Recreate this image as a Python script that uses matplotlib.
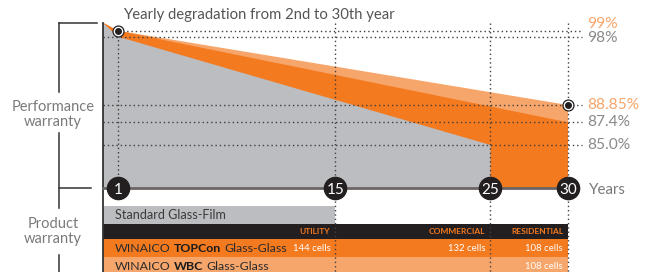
import numpy as np
import matplotlib
matplotlib.use("Agg")
import matplotlib.pyplot as plt

plt.rcParams['font.family'] = ['Lato', 'DejaVu Sans']

# ===== 数据 =====
STANDARD_YEARS = [0, 1, 25]
STANDARD_PERF = [100, 98, 85.0]
TOPCON_YEARS = [0, 1, 30]
TOPCON_PERF = [100, 99, 87.4]
WBC_YEARS = [0, 1, 30]
WBC_PERF = [100, 99, 88.85]

GUIDE_LEVELS = [99, 98, 88.85, 87.4, 85.0]
LEVEL_LABELS = ["99%", "98%", "88.85%", "87.4%", "85.0%"]
MILESTONES = [1, 15, 25, 30]

PRODUCTS = ["Standard Glass-Film", "TOPCon", "WBC"]
PRODUCT_YEARS = [15, 30, 30]
SEGMENTS = ["UTILITY", "COMMERCIAL", "RESIDENTIAL"]
SEGMENT_END = [15, 25, 30]
TOPCON_CELLS = ["144 cells", "132 cells", "108 cells"]
WBC_CELLS = ["", "", "108 cells"]

# ===== 颜色 =====
GREY = '#bcbdc0'
ORANGE = '#f47a20'
LIGHT = '#f7a66b'
DARK = '#231f20'
DOT = '#3f3f3f'
TXT = '#8a8a8a'

# infographic uses an uneven vertical scale
KNOTS_V = [80, 85, 87.4, 88.85, 98, 99, 100]
KNOTS_H = [0, 43, 65.7, 83, 151.3, 157.3, 165.5]


def fwd(v):
    return np.interp(v, KNOTS_V, KNOTS_H)


def inv(h):
    return np.interp(h, KNOTS_H, KNOTS_V)


W, H = 657, 272
fig = plt.figure(figsize=(W / 100, H / 100), dpi=100)

bg = fig.add_axes([0, 0, 1, 1], zorder=0)
bg.set_xlim(0, W)
bg.set_ylim(H, 0)
bg.axis('off')

x0, x1 = 102.5, 568
top, base = 22.5, 188
ax = fig.add_axes([x0 / W, 1 - base / H, (x1 - x0) / W, (base - top) / H], zorder=2)
ax.set_xlim(0, 30)
ax.set_yscale('function', functions=(fwd, inv))
ax.set_ylim(80, 100)
ax.axis('off')

ax2 = fig.add_axes([x0 / W, 0, (x1 - x0) / W, (H - base) / H], zorder=1)
ax2.set_xlim(0, 30)
ax2.set_ylim(H, base)
ax2.axis('off')

# =========================
# 性能质保曲线
# =========================
ax.fill(WBC_YEARS + [WBC_YEARS[-1], 0], WBC_PERF + [80, 80], color=LIGHT, lw=0, zorder=1)
ax.fill(TOPCON_YEARS + [TOPCON_YEARS[-1], 0], TOPCON_PERF + [80, 80], color=ORANGE, lw=0, zorder=1.1)
ax.fill(STANDARD_YEARS + [STANDARD_YEARS[-1], 0], STANDARD_PERF + [80, 80], color=GREY, lw=0, zorder=1.2)

dots = dict(color=DOT, lw=1.0, linestyle=(0, (1.0, 2.1)), clip_on=False, zorder=3)
for lvl, lab in zip(GUIDE_LEVELS, LEVEL_LABELS):
    start = 1 if lvl == 99 else 0
    ax.plot([start, 30.9], [lvl, lvl], **dots)
    col = LIGHT if lab in ("99%", "88.85%") else TXT
    dy = 4.5 if lvl == 99 else (-0.6 if lvl == 98 else 0)
    ax.annotate(lab, (31.22, lvl), xytext=(0, dy), textcoords='offset points',
                color=col, fontsize=11.2, va='center', ha='left', annotation_clip=False)

for m in MILESTONES:
    y_top = 99 if m == 1 else 100
    ax.plot([m, m], [y_top, 80], **dots)
    if m != 1:
        ax2.plot([m, m], [base, H], **dots)

# 左轴 + 底线
ax.plot([0, 0], [100, 80], color='#333333', lw=1.3, clip_on=False, zorder=4)
ax2.plot([0, 0], [base, H], color='#333333', lw=1.3, clip_on=False, zorder=4)
ax.plot([0, 30], [80, 80], color='#6b6566', lw=2, clip_on=False, zorder=4)

# 年份圆点
ax.scatter(MILESTONES, [80] * len(MILESTONES), s=255, color=DARK, clip_on=False, zorder=6)
for m in MILESTONES:
    ax.text(m, 80, str(m), color='white', fontsize=11, ha='center', va='center_baseline',
            zorder=7, clip_on=False)
ax.annotate("Years", (30, 80), xytext=(15, 0), textcoords='offset points', color='#7a7a7a',
            fontsize=10.8, va='center_baseline', ha='left', annotation_clip=False)

# 首年 / 末年标记
for xx, yy in [(WBC_YEARS[1], WBC_PERF[1]), (WBC_YEARS[-1], WBC_PERF[-1])]:
    ax.scatter([xx], [yy], s=62, facecolor='white', edgecolor=DARK, lw=0.9, clip_on=False, zorder=8)
    ax.scatter([xx], [yy], s=16, color=DARK, clip_on=False, zorder=9)

# =========================
# 产品质保表
# =========================
ROW_EDGES = [205.7, 224.3, 239.3, 257.3, 276]
rows_c = [(a + b) / 2 for a, b in zip(ROW_EDGES[:-1], ROW_EDGES[1:])]
rows_h = [b - a for a, b in zip(ROW_EDGES[:-1], ROW_EDGES[1:])]

ax2.barh(rows_c[0], PRODUCT_YEARS[0], height=rows_h[0], left=0, color=GREY, zorder=1)
ax2.barh(rows_c[1], 30, height=rows_h[1], left=0, color=DARK, zorder=1)
ax2.barh(rows_c[2], PRODUCT_YEARS[1], height=rows_h[2], left=0, color=ORANGE, zorder=1)
ax2.barh(rows_c[3], PRODUCT_YEARS[2], height=rows_h[3], left=0, color=LIGHT, zorder=1)

ax2.text(0.8, rows_c[0], PRODUCTS[0], color='#3a3a3a', fontsize=9.1, va='center', zorder=5)

for seg, end in zip(SEGMENTS, SEGMENT_END):
    ax2.annotate(seg, (end, rows_c[1]), xytext=(-3.5, 0), textcoords='offset points',
                 color=ORANGE, fontsize=6, weight='bold', ha='right', va='center', zorder=5)

for r, name in [(2, PRODUCTS[1]), (3, PRODUCTS[2])]:
    t1 = ax2.text(0.8, rows_c[r], "WINAICO", color='#2a2a2a', fontsize=8.9, va='center', zorder=5)
    t2 = ax2.annotate(name, (1, 0.5), xycoords=t1, xytext=(2.3, 0), textcoords='offset points',
                      color='#1a1a1a', fontsize=8.9, weight='bold', va='center', zorder=5)
    ax2.annotate("Glass-Glass", (1, 0.5), xycoords=t2, xytext=(2.3, 0), textcoords='offset points',
                 color='#2a2a2a', fontsize=8.9, va='center', zorder=5)

for r, cells in [(2, TOPCON_CELLS), (3, WBC_CELLS)]:
    for c, end in zip(cells, SEGMENT_END):
        if c:
            ax2.annotate(c, (end, rows_c[r]), xytext=(-3.5, 0), textcoords='offset points',
                         color='white', fontsize=6.9, ha='right', va='center', zorder=5)

# =========================
# 标题 + 左侧括号
# =========================
bg.text(123, 19, "Yearly degradation from 2nd to 30th year", color='#555555',
        fontsize=10.7, va='baseline', ha='left')

br = dict(color='#333333', lw=1.1)
bg.plot([59, 97], [23, 23], **br)
bg.plot([59, 59], [23, 92], **br)
bg.plot([59, 59], [133, 208], **br)
bg.plot([59, 91], [188, 188], **br)
bg.plot([59, 59], [255, 272], **br)

bg.text(53, 114.5, "Performance\nwarranty", color='#7a7a7a', fontsize=10.5,
        ha='center', va='center', linespacing=1.15)
bg.text(53, 231.5, "Product\nwarranty", color='#7a7a7a', fontsize=10.5,
        ha='center', va='center', linespacing=1.15)

plt.savefig("out.png", dpi=100)
plt.close()
